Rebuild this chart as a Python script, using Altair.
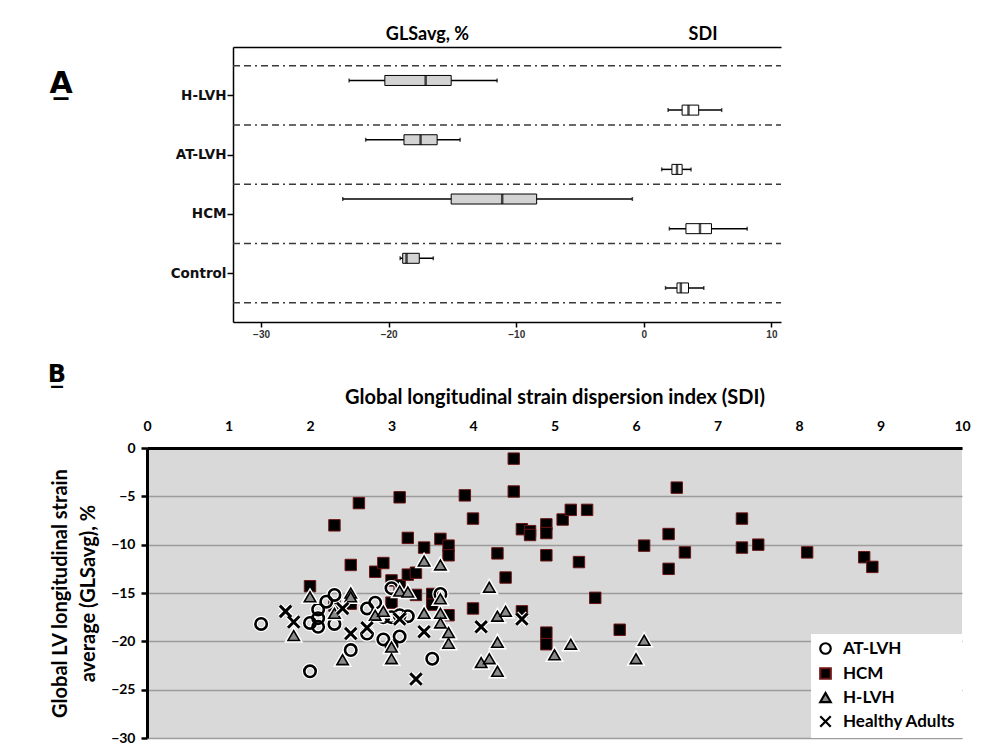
import json
import altair as alt
import pandas as pd

# ---------------- Panel A : box-plot summaries ----------------
groups_a = ["H-LVH", "AT-LVH", "HCM", "Control"]
measures_a = ["GLSavg, %", "SDI"]
gls_min = [-23.1, -21.8, -23.6, -19.1]
gls_q1 = [-20.3, -18.8, -15.1, -18.9]
gls_med = [-17.1, -17.5, -11.1, -18.6]
gls_q3 = [-15.1, -16.2, -8.4, -17.6]
gls_max = [-11.5, -14.4, -0.9, -16.5]
sdi_min = [1.9, 1.4, 2.0, 1.7]
sdi_q1 = [3.0, 2.2, 3.3, 2.6]
sdi_med = [3.5, 2.6, 4.4, 2.9]
sdi_q3 = [4.3, 3.0, 5.3, 3.5]
sdi_max = [6.1, 3.7, 8.1, 4.7]
a_ticks = [-30, -20, -10, 0, 10]

# ---------------- Panel B : scatter ----------------
series_b = ["AT-LVH", "HCM", "H-LVH", "Healthy Adults"]
at_lvh_sdi = [1.4, 2.0, 2.0, 2.1, 2.1, 2.1, 2.2, 2.3, 2.3, 2.5, 2.7, 2.8, 2.7,
              2.9, 2.9, 3.0, 3.0, 3.1, 3.1, 3.2, 3.0, 3.5, 3.6]
at_lvh_gls = [-18.2, -18.1, -23.1, -18.5, -17.6, -16.7, -15.9, -15.2, -18.2, -20.9,
              -16.6, -16.0, -19.2, -17.5, -19.8, -17.5, -14.5, -17.3, -19.5, -17.4,
              -20.5, -21.8, -15.1]
hcm_sdi = [2.0, 2.3, 2.3, 2.5, 2.5, 2.6, 2.8, 2.9, 3.0, 3.0, 3.1, 3.1, 3.2, 3.2,
           3.3, 3.3, 3.4, 3.5, 3.5, 3.6, 3.7, 3.7, 3.7, 3.9, 4.0, 4.0, 4.3, 4.4,
           4.5, 4.5, 4.6, 4.6, 4.7, 4.7, 4.9, 4.9, 4.9, 4.9, 4.9, 5.1, 5.2, 5.3,
           5.4, 5.5, 5.8, 6.1, 6.4, 6.4, 6.5, 6.6, 7.3, 7.3, 7.5, 8.1, 8.8, 8.9]
hcm_gls = [-14.3, -8.0, -16.3, -12.1, -16.1, -5.7, -12.8, -11.9, -13.7, -16.0,
           -5.1, -14.2, -9.3, -13.1, -12.9, -15.2, -10.3, -15.1, -16.2, -9.4,
           -10.1, -11.1, -17.3, -4.9, -7.3, -16.6, -10.9, -13.4, -1.1, -4.5,
           -8.4, -16.9, -8.6, -9.0, -7.9, -8.8, -11.1, -19.1, -20.3, -7.4,
           -6.4, -11.8, -6.4, -15.5, -18.8, -10.1, -8.9, -12.5, -4.1, -10.8,
           -7.3, -10.3, -10.0, -10.8, -11.3, -12.3]
hlvh_sdi = [1.8, 2.0, 2.3, 2.4, 2.5, 2.5, 2.8, 2.9, 3.0, 3.0, 3.1, 3.2, 3.4, 3.4,
            3.6, 3.6, 3.6, 3.6, 3.7, 3.7, 4.2, 4.3, 4.4, 4.3, 4.1, 4.2, 4.3, 5.0,
            5.2, 6.0, 6.1]
hlvh_gls = [-19.4, -15.4, -17.1, -21.9, -15.0, -15.4, -17.3, -16.9, -20.6, -21.8,
            -14.8, -14.9, -11.7, -17.1, -12.1, -15.6, -17.1, -18.1, -19.1, -20.2,
            -14.4, -17.4, -16.9, -20.1, -22.2, -21.8, -23.1, -21.4, -20.3, -21.8,
            -19.9]
healthy_sdi = [1.7, 1.8, 2.4, 2.5, 2.7, 3.1, 3.4, 3.3, 4.1, 4.6]
healthy_gls = [-16.9, -18.0, -16.6, -19.2, -18.6, -17.7, -19.0, -23.9, -18.5, -17.7]
b_x_ticks = list(range(0, 11))
b_y_ticks = [-30, -25, -20, -15, -10, -5, 0]

# ---------------- tables ----------------
stats = [(gls_min, gls_q1, gls_med, gls_q3, gls_max),
         (sdi_min, sdi_q1, sdi_med, sdi_q3, sdi_max)]
rows = []
for i, g in enumerate(groups_a):
    for j, m in enumerate(measures_a):
        lo, q1, md, q3, hi = (s[i] for s in stats[j])
        rows.append({"group": g, "measure": m, "slot": i + 0.25 + 0.5 * j,
                     "lo": lo, "q1": q1, "med": md, "q3": q3, "hi": hi})
box_df = pd.DataFrame(rows)
sep_df = pd.DataFrame({"slot": [float(k) for k in range(len(groups_a) + 1)]})

series_xy = {"HCM": (hcm_sdi, hcm_gls), "AT-LVH": (at_lvh_sdi, at_lvh_gls),
             "H-LVH": (hlvh_sdi, hlvh_gls), "Healthy Adults": (healthy_sdi, healthy_gls)}
pts = []
for name in series_b:
    xs, ys = series_xy[name]
    for xv, yv in zip(xs, ys):
        pts.append({"series": name, "sdi": xv, "gls": yv})
pts_df = pd.DataFrame(pts)

# ---------------- Panel A chart ----------------
A_W, A_INSET = 634, 86          # plot width and left inset of the framed area (px)
xa_dom = [-32.2, 10.75]
xs_a = alt.Scale(domain=xa_dom, range=[A_INSET, A_W], nice=False, zero=False)
ys_a = alt.Scale(domain=[-0.23, len(groups_a) + 0.24], nice=False, zero=False, reverse=True)

y_axis_a = alt.Axis(
    values=[i + 0.5 for i in range(len(groups_a))],
    labelExpr=f"{json.dumps(groups_a)}[floor(datum.value)]",
    offset=-A_INSET,
    title="A\u0332", titleAngle=0, titleAlign="left", titleBaseline="alphabetic",
    titleX=-184, titleY=45, titleFont="DejaVu Sans", titleFontSize=30, titleFontWeight="bold",
    titleColor="black",
    labelFont="DejaVu Sans", labelFontSize=13.5, labelFontWeight="bold", labelColor="#111",
    labelPadding=1, tickSize=6, tickColor="black", tickWidth=1.5,
    domainColor="black", domainWidth=1.5, grid=False)
x_axis_a = alt.Axis(values=a_ticks, format="d", title=None, grid=False,
                    labelFont="Liberation Sans", labelFontSize=10, labelFontWeight="bold",
                    labelColor="#333", tickSize=5, tickColor="black", tickWidth=1.5,
                    domainColor="black", domainWidth=1.5, labelFlush=False)
top_axis_a = alt.Axis(orient="top", values=[-17.0, 4.6],
                      labelExpr=f"datum.value < 0 ? {json.dumps(measures_a[0])} : {json.dumps(measures_a[1])}",
                      ticks=False, title=None, grid=False, domainColor="black", domainWidth=1.5,
                      labelFont="Lato", labelFontSize=18, labelFontWeight="bold",
                      labelColor="black", labelPadding=4, labelFlush=False)

Y_A = alt.Y("slot:Q", scale=ys_a, axis=y_axis_a)
sep = alt.Chart(sep_df).mark_rule(color="#3a3a3a", strokeWidth=1.5,
                                  strokeDash=[7, 4, 7, 4, 2, 4]).encode(
    x=alt.XDatum(xa_dom[0], type="quantitative", scale=xs_a, axis=None),
    x2=alt.X2Datum(xa_dom[1]), y=Y_A)
whisk = alt.Chart(box_df).mark_rule(color="black", strokeWidth=1.5).encode(
    x=alt.X("lo:Q", scale=xs_a, axis=top_axis_a), x2="hi:Q", y=Y_A)
caps = alt.Chart(box_df).transform_fold(["lo", "hi"]).mark_tick(
    orient="vertical", size=4, thickness=1.5, color="black").encode(
    x=alt.X("value:Q", scale=xs_a, axis=None), y=Y_A)
box = alt.Chart(box_df).mark_bar(size=10, stroke="black", strokeWidth=1).encode(
    x=alt.X("q1:Q", scale=xs_a, axis=x_axis_a), x2="q3:Q", y=Y_A,
    fill=alt.Fill("measure:N", scale=alt.Scale(domain=measures_a, range=["#d3d3d3", "#ffffff"]),
                  legend=None))
med = alt.Chart(box_df).mark_tick(orient="vertical", size=10, thickness=2.5, color="black").encode(
    x=alt.X("med:Q", scale=xs_a, axis=None), y=Y_A)

panel_a = alt.layer(sep, whisk, caps, box, med).resolve_axis(x="independent").properties(
    width=A_W, height=275, view=alt.ViewBackground(stroke=None))

# ---------------- Panel B chart ----------------
XPATH = "M-1,-1L1,1M-1,1L1,-1"
style = {  # series: (shape, fill, stroke, strokeWidth, halo width)
    "AT-LVH": ("circle", "rgba(0,0,0,0)", "#000000", 2.6, 5.0),
    "HCM": ("square", "#000000", "#6e1414", 1.0, 0),
    "H-LVH": ("triangle-up", "#8a8a8a", "#000000", 1.6, 4.5),
    "Healthy Adults": (XPATH, "rgba(0,0,0,0)", "#000000", 3.0, 5.5),
}
draw_order = ["HCM", "AT-LVH", "H-LVH", "Healthy Adults"]

xs_b = alt.Scale(domain=[0, 10], nice=False, zero=False)
ys_b = alt.Scale(domain=[-30, 0], nice=False, zero=False)
x_axis_b = alt.Axis(orient="top", values=b_x_ticks, format="d", ticks=False, labelPadding=15,
                    labelFont="Lato", labelFontSize=14, labelFontWeight="bold", labelColor="black",
                    domainColor="black", domainWidth=3, grid=False, labelFlush=False,
                    title="Global longitudinal strain dispersion index (SDI)",
                    titleFont="Lato", titleFontSize=20, titleFontWeight="bold", titleColor="black",
                    titlePadding=12)
y_axis_b = alt.Axis(values=b_y_ticks, format="d", labelFont="Lato", labelFontSize=14,
                    labelFontWeight="bold", labelColor="black", labelPadding=6,
                    tickSize=6, tickWidth=2.5, tickColor="black",
                    domainColor="black", domainWidth=3,
                    grid=True, gridColor="#9c9c9c", gridWidth=1.3,
                    title=["Global LV longitudinal strain", "average  (GLSavg), %"],
                    titleFont="Lato", titleFontSize=20, titleFontWeight="bold", titleColor="black",
                    titlePadding=12, titleLineHeight=28)
X_B = alt.X("sdi:Q", scale=xs_b, axis=x_axis_b)
Y_B = alt.Y("gls:Q", scale=ys_b, axis=y_axis_b)

layers_b = []
for name in draw_order:
    shp, fil, stk, sw, hw = style[name]
    base = alt.Chart(pts_df).transform_filter(alt.datum.series == name)
    if hw:
        layers_b.append(base.mark_point(shape=shp, filled=False, stroke="white",
                                        strokeWidth=hw, size=130, opacity=1).encode(x=X_B, y=Y_B))
    layers_b.append(base.mark_point(shape=shp, filled=True, fill=fil, stroke=stk,
                                    strokeWidth=sw, size=130, opacity=1).encode(x=X_B, y=Y_B))

# legend carrier: draws nothing, only provides the legend
legend_layer = alt.Chart(pts_df).transform_filter("false").mark_point(
    filled=True, opacity=1).encode(
    x=X_B, y=Y_B,
    shape=alt.Shape("series:N", scale=alt.Scale(domain=series_b,
                    range=[style[s][0] for s in series_b]), title=None),
    color=alt.Color("series:N", scale=alt.Scale(domain=series_b,
                    range=[style[s][1] for s in series_b]), title=None),
    stroke=alt.Stroke("series:N", scale=alt.Scale(domain=series_b,
                      range=[style[s][2] for s in series_b]), title=None))

panel_b = alt.layer(*layers_b, legend_layer).properties(
    width=815, height=290,
    view=alt.ViewBackground(fill="#d9d9d9", stroke=None),
    title=alt.TitleParams("B\u0332", anchor="start", font="DejaVu Sans", fontSize=24,
                          fontWeight="bold", color="black", offset=0, dx=-3))

chart = alt.vconcat(panel_a, panel_b, spacing=24).resolve_scale(
    color="independent", fill="independent", shape="independent", stroke="independent"
).resolve_legend(
    color="independent", fill="independent", shape="independent", stroke="independent"
).properties(
    padding={"left": 39, "top": 17, "right": 5, "bottom": 2}
).configure_legend(
    orient="bottom-right", offset=0, fillColor="white", padding=6,
    labelFont="Lato", labelFontSize=17, labelFontWeight="bold", labelColor="black",
    symbolSize=110, symbolStrokeWidth=2.2, rowPadding=4, labelOffset=9
)

chart.save("out.html", embed_options={"renderer": "svg", "actions": False})
